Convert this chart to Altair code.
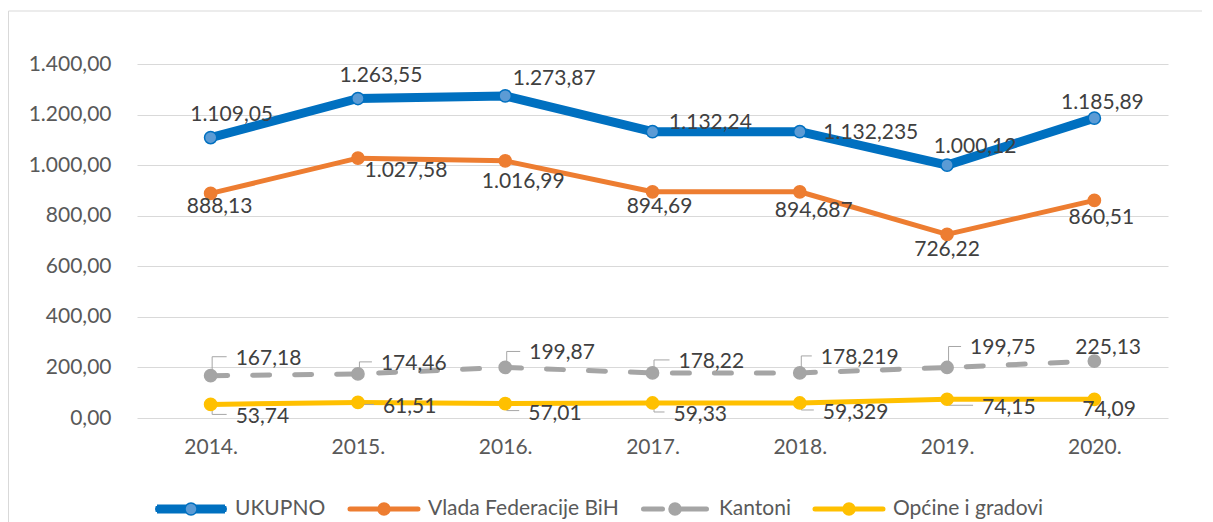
import altair as alt
import pandas as pd

# ---------------- data ----------------
years = ["2014.", "2015.", "2016.", "2017.", "2018.", "2019.", "2020."]
series_names = ["UKUPNO", "Vlada Federacije BiH", "Kantoni", "Općine i gradovi"]
ukupno = [1109.05, 1263.55, 1273.87, 1132.24, 1132.235, 1000.12, 1185.89]
vlada = [888.13, 1027.58, 1016.99, 894.69, 894.687, 726.22, 860.51]
kantoni = [167.18, 174.46, 199.87, 178.22, 178.219, 199.75, 225.13]
opcine = [53.74, 61.51, 57.01, 59.33, 59.329, 74.15, 74.09]
values_by_series = [ukupno, vlada, kantoni, opcine]
y_ticks = [0, 200, 400, 600, 800, 1000, 1200, 1400]

# ---------------- styles ----------------
line_colors = ["#0070c0", "#ed7d31", "#a5a5a5", "#ffc000"]
marker_fills = ["#5b9bd5", "#ed7d31", "#a5a5a5", "#ffc000"]
line_widths = [9, 5, 5, 5]
line_dashes = [None, None, [17, 25], None]
FONT = "Lato"
PLOT_W, PLOT_H = 1031, 354
Y_MAX = 1400

# data-label placement (pixel offsets from each point, as placed in the original)
label_align = ["center", "center", "left", "left"]
label_dx = [
    [21, 23, 49, 58, 71, 28, 8],
    [9, 48, 18, 7, 14, 0, 7],
    [25, 23, 24, 26, 21, 23, -19],
    [25, 25, 23, 21, 23, 35, -12],
]
label_dy = [
    [-23, -23, -17, -9, 1, -18, -15],
    [14, 13, 21, 15, 19, 16, 18],
    [-17, -10, -14, -11, -15, -19, -13],
    [13, 5, 10, 12, 10, 9, 11],
]
leader_series = [2, 3]
leader_years = 6  # first six years have leader lines


def fmt(v):
    ip, dp = repr(v).split(".")
    return f"{int(ip):,}".replace(",", ".") + "," + dp


rows = []
for si, name in enumerate(series_names):
    for yi, yr in enumerate(years):
        v = values_by_series[si][yi]
        rows.append(dict(year=yr, series=name, value=v, label=fmt(v),
                         dx=label_dx[si][yi], dy=label_dy[si][yi],
                         align=label_align[si]))
df = pd.DataFrame(rows)

lrows = []
for si in leader_series:
    for yi in range(leader_years):
        v = values_by_series[si][yi]
        ly = label_dy[si][yi] - (2 if si == 2 else 3)
        lx = label_dx[si][yi] - 9
        for k, (ox, oy) in enumerate([(1.5, 0), (1.5, ly), (lx, ly)]):
            lrows.append(dict(year=years[yi], value=v, lid=f"{si}-{yi}",
                              k=k, dx=ox, dy=oy))
ldf = pd.DataFrame(lrows)

# pixel offset (dy) -> data units on the fixed linear y scale
PX = f"{Y_MAX} / {PLOT_H}"

# ---------------- legend symbols (custom paths) ----------------
PATH_S = ("M-3.4,-0.175H3.4A0.175,0.175,0,0,1,3.4,0.175H-3.4"
          "A0.175,0.175,0,0,1,-3.4,-0.175Z"
          "M0.6,0A0.6,0.6,0,1,1,-0.6,0A0.6,0.6,0,1,1,0.6,0Z")
PATH_K = ("M-3.15,-0.175H-1.25A0.175,0.175,0,0,1,-1.25,0.175H-3.15"
          "A0.175,0.175,0,0,1,-3.15,-0.175Z"
          "M0,-0.175H3.15A0.175,0.175,0,0,1,3.15,0.175H0Z"
          "M0.6,0A0.6,0.6,0,1,1,-0.6,0A0.6,0.6,0,1,1,0.6,0Z")
PATH_U = ("M-3.59,-0.075H-0.59M-3.59,0.075H-0.59"
          "M-3.54,-0.225H-0.55M-3.54,0.225H-0.55"
          "M-3.40,-0.375H-0.46M-3.40,0.375H-0.46"
          "M0.59,-0.075H3.59M0.59,0.075H3.59"
          "M0.55,-0.225H3.54M0.55,0.225H3.54"
          "M0.46,-0.375H3.40M0.46,0.375H3.40"
          "M0.6,0A0.6,0.6,0,1,1,-0.6,0A0.6,0.6,0,1,1,0.6,0Z")
legend_shapes = [PATH_U, PATH_S, PATH_K, PATH_S]

# ---------------- encodings ----------------
x_enc = alt.X("year:O", sort=years,
              scale=alt.Scale(type="point", domain=years, padding=0.5),
              axis=alt.Axis(title=None, labelAngle=0, ticks=False, domain=False,
                            grid=False, labelFont=FONT, labelFontSize=21,
                            labelColor="#595959", labelPadding=18))
label_expr = ("replace(replace(replace(format(datum.value, ',.2f'), ',', '#'),"
              " '.', ','), '#', '.')")
y_enc = alt.Y("value:Q", scale=alt.Scale(domain=[0, Y_MAX], nice=False),
              axis=alt.Axis(values=y_ticks, title=None, ticks=False, domain=False,
                            grid=True, gridColor="#d9d9d9", gridWidth=1,
                            labelExpr=label_expr, labelFont=FONT,
                            labelFontSize=21, labelColor="#595959",
                            labelPadding=26))
x_plain = alt.X("year:O", sort=years)

base = alt.Chart(df)

layers = []

# outer frame of the chart area
frame_df = pd.DataFrame({"f": [0]})
layers.append(alt.Chart(frame_df).mark_rule(color="#d9d9d9", strokeWidth=1).encode(
    x=alt.value(-128.5), x2=alt.value(1065), y=alt.value(-53)))
layers.append(alt.Chart(frame_df).mark_rule(color="#d9d9d9", strokeWidth=1).encode(
    x=alt.value(-128.5), y=alt.value(-53), y2=alt.value(458)))

# series lines
for si, name in enumerate(series_names):
    kw = dict(color=line_colors[si], strokeWidth=line_widths[si],
              strokeCap="round", strokeJoin="round")
    if line_dashes[si]:
        kw["strokeDash"] = line_dashes[si]
    layers.append(
        base.transform_filter(alt.datum.series == name).mark_line(**kw).encode(
            x=x_enc if si == 0 else x_plain,
            y=y_enc if si == 0 else alt.Y("value:Q"),
        )
    )

# leader lines of the small-series labels
layers.append(
    alt.Chart(ldf).transform_calculate(ly=f"datum.value - datum.dy * {PX}")
    .mark_line(color="#a6a6a6", strokeWidth=1).encode(
        x=x_plain, y="ly:Q",
        xOffset=alt.XOffset("dx:Q", scale=None),
        detail="lid:N", order="k:Q",
    )
)

# markers
for si, name in enumerate(series_names):
    layers.append(
        base.transform_filter(alt.datum.series == name).mark_point(
            filled=True, size=150, strokeWidth=1.5, opacity=1,
            fill=marker_fills[si], stroke=line_colors[si],
        ).encode(x=x_plain, y="value:Q")
    )

# legend carrier: draws nothing, only supplies the merged legend
legend = alt.Legend(
    orient="none", legendX=18, legendY=434, direction="horizontal", title=None,
    padding=0, labelFont=FONT, labelFontSize=21, labelColor="#595959",
    labelLimit=0,
    symbolSize=400, symbolStrokeWidth=1.5, symbolOffset=25, labelOffset=33,
    columnPadding=19, symbolOpacity=1,
)
layers.append(
    base.transform_filter("false").mark_point(filled=True).encode(
        x=x_plain, y="value:Q",
        shape=alt.Shape("series:N",
                        scale=alt.Scale(domain=series_names, range=legend_shapes),
                        legend=legend),
        fill=alt.Fill("series:N",
                      scale=alt.Scale(domain=series_names, range=marker_fills),
                      legend=legend),
        stroke=alt.Stroke("series:N",
                          scale=alt.Scale(domain=series_names, range=line_colors),
                          legend=legend),
    )
)

# data labels
for align in ["center", "left"]:
    layers.append(
        base.transform_filter(alt.datum.align == align)
        .transform_calculate(ty=f"datum.value - datum.dy * {PX}")
        .mark_text(font=FONT, fontSize=21, color="#404040",
                   baseline="middle", align=align)
        .encode(
            x=x_plain, y="ty:Q", text="label:N",
            xOffset=alt.XOffset("dx:Q", scale=None),
        )
    )

chart = alt.layer(*layers).properties(
    width=PLOT_W, height=PLOT_H,
    padding={"left": 0, "top": 2, "right": 0, "bottom": 0},
    background="white",
).configure_view(stroke=None)

chart.save("out.html", embed_options={"renderer": "svg", "actions": False})
